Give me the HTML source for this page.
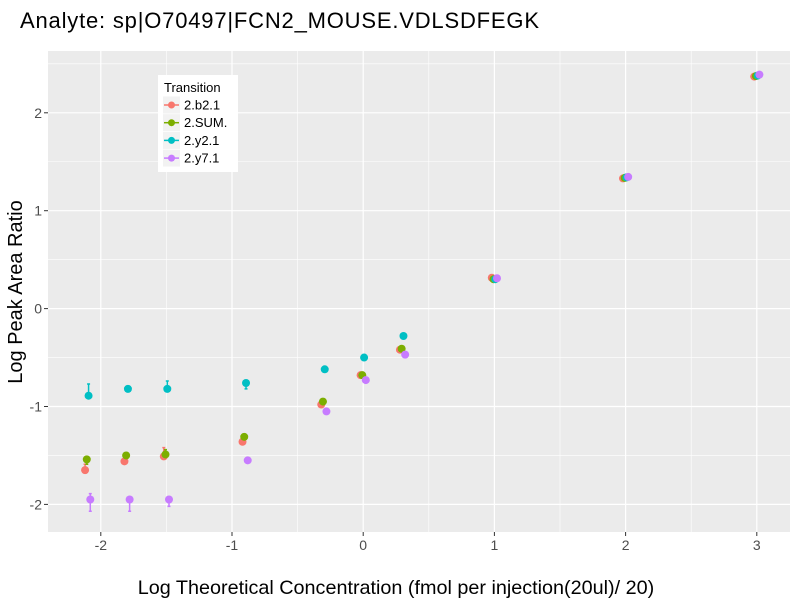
<!DOCTYPE html>
<html><head><meta charset="utf-8"><style>
body{margin:0;background:#fff;}
svg{display:block;font-family:"Liberation Sans",Arial,sans-serif;}
</style></head><body>
<svg id="chart" width="800" height="600" viewBox="0 0 800 600">
<text x="20" y="28" font-size="22" textLength="519" fill="#000">Analyte: sp|O70497|FCN2_MOUSE.VDLSDFEGK</text>
<rect x="48" y="51" width="742" height="481" fill="#EBEBEB"/>
<g id="grid"></g>
<g id="axes"></g>
<g id="marks"></g>
<text x="396" y="594" font-size="19.8" text-anchor="middle" fill="#000">Log Theoretical Concentration (fmol per injection(20ul)/ 20)</text>
<text transform="translate(22,292) rotate(-90)" font-size="20" text-anchor="middle" fill="#000">Log Peak Area Ratio</text>
<g>
<rect x="158" y="75" width="80" height="97" fill="#fff"/>
<text x="164" y="92" font-size="13" fill="#000">Transition</text>
<g id="legendItems"></g>
</g>
</svg>
<script>
const xCats = [-2.1, -1.8, -1.5, -0.9, -0.3, 0, 0.3, 1, 2, 3];
const seriesNames = ["2.b2.1", "2.SUM.", "2.y2.1", "2.y7.1"];
const b21 = [-1.65, -1.56, -1.51, -1.36, -0.98, -0.68, -0.42, 0.315, 1.33, 2.37];
const sum = [-1.54, -1.50, -1.49, -1.31, -0.95, -0.68, -0.41, 0.30, 1.335, 2.375];
const y21 = [-0.89, -0.82, -0.82, -0.76, -0.62, -0.50, -0.28, 0.30, 1.34, 2.38];
const y71 = [-1.95, -1.95, -1.95, -1.55, -1.05, -0.73, -0.47, 0.31, 1.345, 2.39];
const b21Lo = [-1.65, -1.56, -1.51, -1.39, -0.98, -0.68, -0.42, 0.315, 1.33, 2.37];
const b21Hi = [-1.59, -1.56, -1.42, -1.36, -0.98, -0.66, -0.42, 0.315, 1.33, 2.37];
const sumLo = [-1.59, -1.50, -1.49, -1.31, -0.95, -0.68, -0.41, 0.30, 1.335, 2.375];
const sumHi = [-1.54, -1.50, -1.44, -1.31, -0.95, -0.68, -0.41, 0.30, 1.335, 2.375];
const y21Lo = [-0.89, -0.84, -0.82, -0.82, -0.62, -0.50, -0.28, 0.30, 1.34, 2.38];
const y21Hi = [-0.77, -0.82, -0.74, -0.76, -0.62, -0.50, -0.28, 0.30, 1.34, 2.38];
const y71Lo = [-2.07, -2.07, -2.02, -1.55, -1.05, -0.73, -0.47, 0.31, 1.345, 2.39];
const y71Hi = [-1.89, -1.95, -1.95, -1.55, -1.05, -0.73, -0.47, 0.31, 1.345, 2.39];
const xTicks = [-2, -1, 0, 1, 2, 3];
const xMinor = [-1.5, -0.5, 0.5, 1.5, 2.5];
const yTicks = [-2, -1, 0, 1, 2];
const yMinor = [-1.5, -0.5, 0.5, 1.5, 2.5];

const colors = ["#F8766D", "#7CAE00", "#00BFC4", "#C77CFF"];
const dodge = [-2.6, -0.9, 0.9, 2.6];
const NS = "http://www.w3.org/2000/svg";
const PL = 48, PR = 790, PT = 51, PB = 532;
function xs(v){ return 363.2 + v * 131.2; }
function ys(v){ return 308.6 - v * 97.9; }
function mk(tag, attrs, parent){
  const e = document.createElementNS(NS, tag);
  for (const k in attrs) e.setAttribute(k, attrs[k]);
  parent.appendChild(e); return e;
}
const grid = document.getElementById('grid');
const axes = document.getElementById('axes');
const marks = document.getElementById('marks');
xMinor.forEach(v => { const l = mk('line', {x1:xs(v), x2:xs(v), y1:PT, y2:PB, stroke:'#fff', 'stroke-width':0.6}, grid);
  
   });
yMinor.forEach(v => { const l = mk('line', {x1:PL, x2:PR, y1:ys(v), y2:ys(v), stroke:'#fff', 'stroke-width':0.6}, grid);
  
   });
xTicks.forEach(v => {
  const l = mk('line', {x1:xs(v), x2:xs(v), y1:PT, y2:PB, stroke:'#fff', 'stroke-width':1.2}, grid);
  
  
  const t = mk('line', {x1:xs(v), x2:xs(v), y1:PB, y2:PB+4, stroke:'#333', 'stroke-width':1}, axes);
  
  
  const tx = mk('text', {x:xs(v), y:PB+18, 'font-size':14, 'text-anchor':'middle', fill:'#4D4D4D'}, axes);
  tx.textContent = v;
  
  
});
yTicks.forEach(v => {
  const l = mk('line', {x1:PL, x2:PR, y1:ys(v), y2:ys(v), stroke:'#fff', 'stroke-width':1.2}, grid);
  
  
  const t = mk('line', {x1:PL-4, x2:PL, y1:ys(v), y2:ys(v), stroke:'#333', 'stroke-width':1}, axes);
  
  
  const tx = mk('text', {x:PL-6, y:ys(v)+5, 'font-size':14, 'text-anchor':'end', fill:'#4D4D4D'}, axes);
  tx.textContent = v;
  
  
});
const vals = [b21, sum, y21, y71];
const los = [b21Lo, sumLo, y21Lo, y71Lo];
const his = [b21Hi, sumHi, y21Hi, y71Hi];
vals.forEach((arr, s) => {
  const g = mk('g', {}, marks);
  
  
  arr.forEach((v, i) => {
    const cx = xs(xCats[i]) + dodge[s];
    const y1 = ys(los[s][i]), y2 = ys(his[s][i]);
    if (Math.abs(y1 - y2) > 0.5) {
      const eb = mk('path', {d:`M${cx-1.5},${y1}H${cx+1.5}M${cx},${y1}V${y2}M${cx-1.5},${y2}H${cx+1.5}`, stroke:colors[s], 'stroke-width':1.5, fill:'none'}, g);
      
      
    }
    const c = mk('circle', {cx:cx, cy:ys(v), r:4, fill:colors[s]}, g);
    
    
  });
});
const li = document.getElementById('legendItems');
seriesNames.forEach((n, s) => {
  const y = 105 + s * 17.7;
  const g = mk('g', {}, li);
  
  
  mk('rect', {x:163, y:y-8.5, width:17, height:17, fill:'#F2F2F2'}, g);
  mk('line', {x1:164, x2:179, y1:y, y2:y, stroke:colors[s], 'stroke-width':1.5}, g);
  mk('circle', {cx:171.5, cy:y, r:3.5, fill:colors[s]}, g);
  const t = mk('text', {x:184, y:y+4.5, 'font-size':13, fill:'#000'}, g);
  t.textContent = n;
});
</script>
</body></html>
